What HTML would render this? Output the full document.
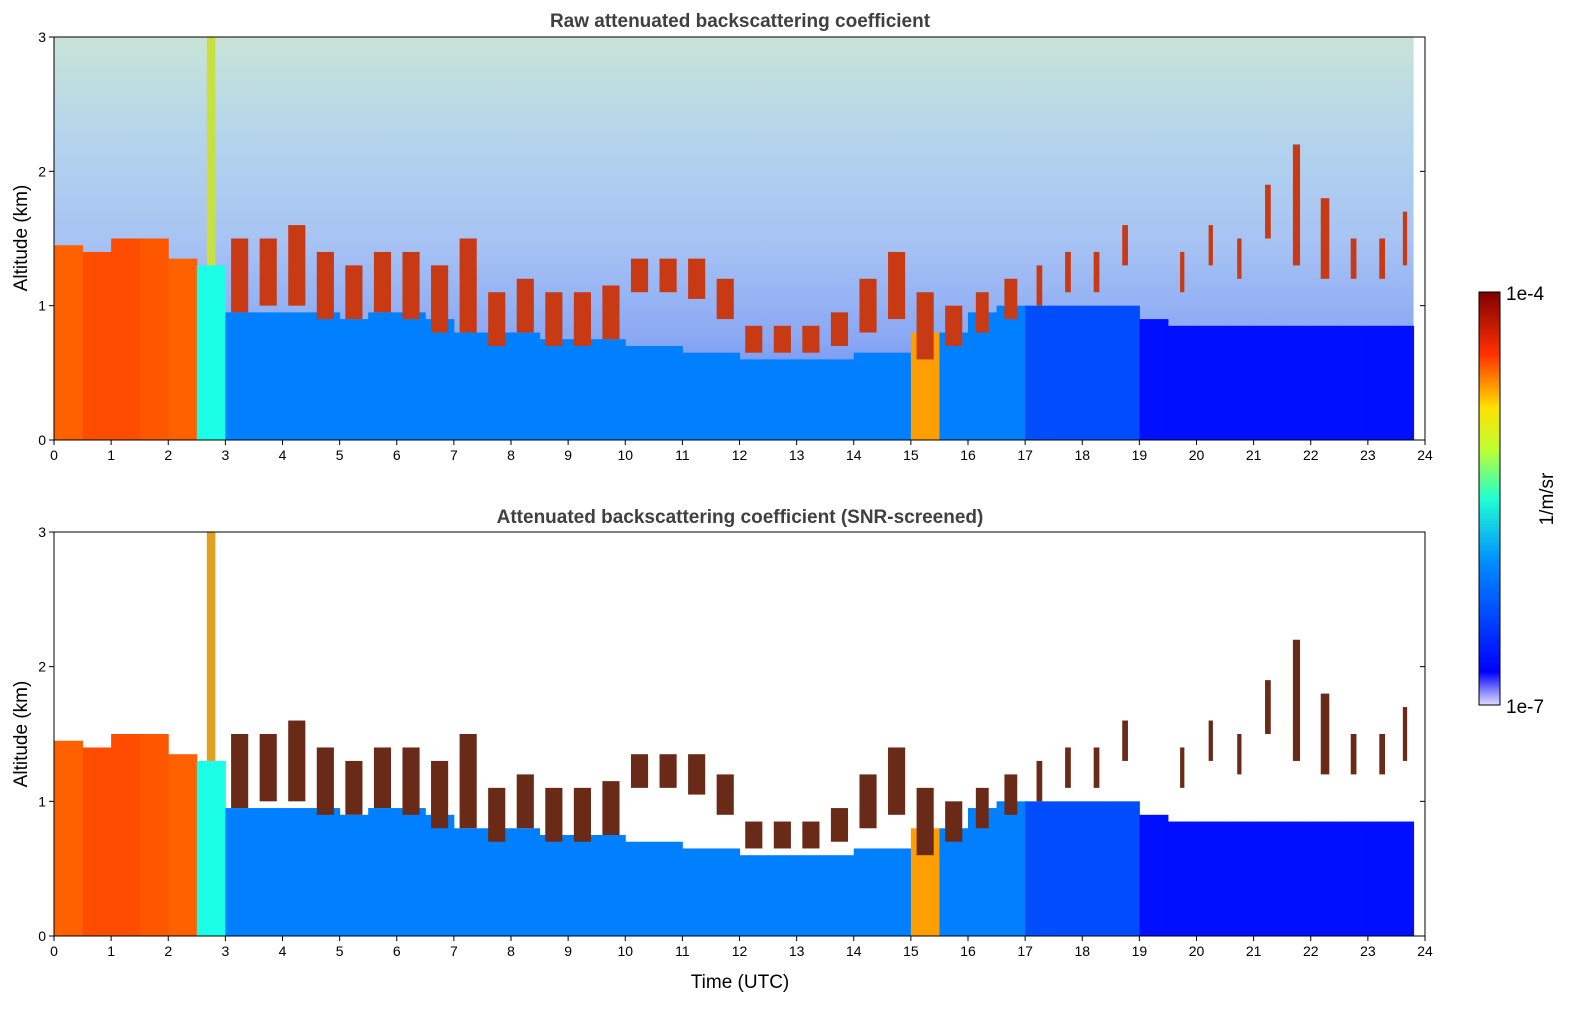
<!DOCTYPE html>
<html><head><meta charset="utf-8"><style>
body{margin:0;background:#fff;}
svg{display:block;font-family:"Liberation Sans","DejaVu Sans",sans-serif;}
</style></head><body>
<svg id="chart" width="1595" height="1020" viewBox="0 0 1595 1020" xmlns="http://www.w3.org/2000/svg">
<defs>
<linearGradient id="noiseGrad" x1="0" y1="0" x2="0" y2="1">
<stop offset="0" stop-color="#c8e4d8"/>
<stop offset="0.25" stop-color="#b4d4ec"/>
<stop offset="0.5" stop-color="#a8c4f4"/>
<stop offset="0.75" stop-color="#8aa8f4"/>
<stop offset="1" stop-color="#5078f0"/>
</linearGradient>
<linearGradient id="cbGrad" x1="0" y1="1" x2="0" y2="0">
<stop offset="0" stop-color="#dcdcff"/>
<stop offset="0.03" stop-color="#9090ff"/>
<stop offset="0.08" stop-color="#0000ff"/>
<stop offset="0.35" stop-color="#0090ff"/>
<stop offset="0.5" stop-color="#20ffd0"/>
<stop offset="0.62" stop-color="#c0ff30"/>
<stop offset="0.72" stop-color="#ffe000"/>
<stop offset="0.85" stop-color="#ff3000"/>
<stop offset="1" stop-color="#800000"/>
</linearGradient>
</defs>
<g id="marks"></g>
<g id="axes"></g>
<text x="740" y="27" text-anchor="middle" font-size="19" font-weight="bold" fill="#404040">Raw attenuated backscattering coefficient</text>
<text x="740" y="523" text-anchor="middle" font-size="19" font-weight="bold" fill="#404040">Attenuated backscattering coefficient (SNR-screened)</text>
<text transform="translate(27,238) rotate(-90)" text-anchor="middle" font-size="19">Altitude (km)</text>
<text transform="translate(27,734) rotate(-90)" text-anchor="middle" font-size="19">Altitude (km)</text>
<text x="740" y="988" text-anchor="middle" font-size="19">Time (UTC)</text>
<rect x="1479" y="292" width="21" height="413" fill="url(#cbGrad)" stroke="#000" stroke-width="1"/>
<text x="1506" y="300" font-size="19">1e-4</text>
<text x="1506" y="713" font-size="19">1e-7</text>
<text transform="translate(1553,499) rotate(-90)" text-anchor="middle" font-size="19">1/m/sr</text>
</svg>
<script>
const binHours = 0.5;
const aerosolTop = [1.45,1.4,1.5,1.5,1.35,1.3, 0.95,0.95,0.95,0.95,0.9,0.95,0.95,0.9, 0.8,0.8,0.8,0.75,0.75,0.75, 0.7,0.7,0.65,0.65, 0.6,0.6,0.6,0.6, 0.65,0.65, 0.8,0.8, 0.95,1.0, 1.0,1.0,1.0,1.0, 0.9,0.85,0.85,0.85,0.85,0.85,0.85,0.85,0.85,0.85];
const aerosolLevel = [0.78,0.8,0.8,0.79,0.78,0.4, 0.25,0.25,0.25,0.25,0.25,0.25,0.25,0.25, 0.25,0.25,0.25,0.25,0.25,0.25, 0.25,0.25,0.25,0.25, 0.25,0.25,0.25,0.25, 0.25,0.25, 0.72,0.25, 0.25,0.25, 0.2,0.2,0.2,0.2, 0.14,0.14,0.14,0.14,0.14,0.14,0.14,0.14,0.14,0.14];
const cloudBase = [0,0,0,0,0,1.3, 0.95,1.0,1.0,0.9,0.9,0.95,0.9,0.8, 0.8,0.7,0.8,0.7,0.7,0.75, 1.1,1.1,1.05,0.9, 0.65,0.65,0.65,0.7, 0.8,0.9,0.6,0.7, 0.8,0.9, 1.0,1.1,1.1,1.3, 0,1.1,1.3,1.2,1.5,1.3,1.2,1.2,1.2,1.3];
const cloudTop = [0,0,0,0,0,3.0, 1.5,1.5,1.6,1.4,1.3,1.4,1.4,1.3, 1.5,1.1,1.2,1.1,1.1,1.15, 1.35,1.35,1.35,1.2, 0.85,0.85,0.85,0.95, 1.2,1.4,1.1,1.0, 1.1,1.2, 1.3,1.4,1.4,1.6, 0,1.4,1.6,1.5,1.9,2.2,1.8,1.5,1.5,1.7];
const cloudCover = [0,0,0,0,0,0.3, 0.6,0.6,0.6,0.6,0.6,0.6,0.6,0.6, 0.6,0.6,0.6,0.6,0.6,0.6, 0.6,0.6,0.6,0.6, 0.6,0.6,0.6,0.6, 0.6,0.6,0.6,0.6, 0.45,0.45, 0.2,0.2,0.2,0.2, 0,0.15,0.15,0.15,0.2,0.25,0.3,0.2,0.2,0.25];
const xTicks = [0,1,2,3,4,5,6,7,8,9,10,11,12,13,14,15,16,17,18,19,20,21,22,23,24];
const yTicks = [0,1,2,3];
const dataEnd = 23.8;

const NS='http://www.w3.org/2000/svg';
const marks=document.getElementById('marks'), axes=document.getElementById('axes');
const X0=54, X1=1425;
const panels=[{top:37,bot:440,raw:true,name:'raw'},{top:532,bot:936,raw:false,name:'screened'}];
function jet(v){v=Math.max(0,Math.min(1,v));
 const r=Math.max(0,Math.min(1,1.5-Math.abs(4*v-3))), g=Math.max(0,Math.min(1,1.5-Math.abs(4*v-2))), b=Math.max(0,Math.min(1,1.5-Math.abs(4*v-1)));
 return `rgb(${Math.round(r*255)},${Math.round(g*255)},${Math.round(b*255)})`;}
function el(tag,attrs,parent){const e=document.createElementNS(NS,tag);for(const k in attrs)e.setAttribute(k,attrs[k]);parent.appendChild(e);return e;}
panels.forEach(p=>{
 const xs=t=>X0+(X1-X0)*t/24;
 const ys=h=>p.bot-(p.bot-p.top)*h/3;
 if(p.raw){
  const bg=el('rect',{x:xs(0),y:p.top,width:xs(dataEnd)-xs(0),height:p.bot-p.top,fill:'url(#noiseGrad)'},marks);
  
  
 }
 aerosolTop.forEach((h,i)=>{
  const t0=i*binHours, t1=Math.min(dataEnd,(i+1)*binHours);
  const r=el('rect',{x:xs(t0),y:ys(h),width:xs(t1)-xs(t0)+0.5,height:ys(0)-ys(h),fill:jet(aerosolLevel[i])},marks);
  
  
  if(cloudTop[i]>cloudBase[i]&&cloudCover[i]>0){
   const w=(xs(t1)-xs(t0))*cloudCover[i];
   const c=el('rect',{x:xs(t0)+(xs(t1)-xs(t0)-w)/2,y:ys(cloudTop[i]),width:w,height:ys(cloudBase[i])-ys(cloudTop[i]),fill:p.raw?(i==5?'#c8e040':'#c83a14'):(i==5?'#e0a020':'#6a2a18')},marks);
   
   
  }
 });
 const frame=el('rect',{x:X0,y:p.top,width:X1-X0,height:p.bot-p.top,fill:'none',stroke:'#000','stroke-width':1},axes);
 
 
 xTicks.forEach(t=>{
  el('line',{x1:xs(t),x2:xs(t),y1:p.bot,y2:p.bot+5,stroke:'#000'},axes);
  const tx=el('text',{x:xs(t),y:p.bot+20,'text-anchor':'middle','font-size':14},axes);
  tx.textContent=t;
  
  
 });
 yTicks.forEach(h=>{
  el('line',{x1:X0-5,x2:X0,y1:ys(h),y2:ys(h),stroke:'#000'},axes);
  el('line',{x1:X1,x2:X1-5,y1:ys(h),y2:ys(h),stroke:'#000'},axes);
  const tx=el('text',{x:X0-8,y:ys(h)+5,'text-anchor':'end','font-size':14},axes);
  tx.textContent=h;
  
  
 });
});
</script>
</body></html>
